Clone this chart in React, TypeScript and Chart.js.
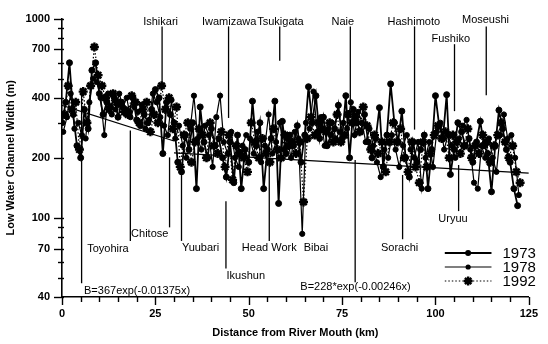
import React, { useEffect, useRef } from "react";
import { Chart, registerables } from "chart.js";

Chart.register(...registerables);

// Survey stations every km from the river mouth; the three surveys are offset slightly.
const distanceKm = Array.from({ length: 123 }, (_, i) => i);
const surveyOffsetKm = [0, 0.33, 0.67];

const width1973 = [
  300, 380, 600, 330, 230, 200, 350, 280, 550, 600,
  420, 330, 380, 360, 400, 320, 380, 350, 340, 400,
  310, 290, 330, 300, 350, 440, 400, 210, 380, 330,
  300, 190, 170, 260, 220, 300, 140, 360, 240, 200,
  280, 230, 250, 200, 160, 240, 150, 260, 140, 220,
  190, 385, 230, 300, 140, 220, 250, 385, 118, 305,
  210, 260, 230, 290, 190, 260, 455, 300, 410, 250,
  320, 230, 260, 280, 367, 250, 410, 200, 350, 300,
  270, 330, 240, 200, 250, 357, 180, 260, 470, 300,
  240, 343, 200, 160, 240, 190, 220, 260, 140, 220,
  410, 290, 250, 415, 165, 220, 300, 270, 230, 250,
  190, 240, 305, 230, 210, 135, 230, 347, 280, 220,
  190, 140, 115,
];
const width1978 = [
  270, 320, 420, 280, 300, 260, 250, 380, 500, 480,
  400, 260, 420, 330, 350, 420, 360, 400, 320, 360,
  340, 370, 280, 310, 420, 380, 320, 290, 260, 390,
  250, 290, 230, 200, 280, 410, 250, 220, 290, 260,
  180, 320, 410, 240, 210, 270, 200, 180, 230, 260,
  250, 210, 270, 190, 230, 330, 210, 240, 300, 220,
  250, 200, 270, 250, 83, 300, 280, 430, 270, 320,
  230, 280, 300, 250, 270, 300, 280, 380, 260, 340,
  300, 240, 280, 230, 190, 160, 220, 200, 260, 220,
  180, 230, 260, 220, 200, 240, 140, 200, 240, 180,
  270, 300, 220, 260, 230, 200, 250, 290, 310, 220,
  150, 140, 230, 200, 250, 200, 170, 260, 330, 250,
  260, 200, 130,
];
const width1992 = [
  330, 460, 350, 380, 220, 430, 300, 460, 720, 520,
  460, 400, 350, 420, 380, 370, 340, 330, 410, 380,
  300, 350, 380, 270, 330, 300, 460, 350, 400, 280,
  360, 180, 260, 300, 190, 240, 280, 260, 200, 300,
  230, 210, 270, 180, 260, 155, 230, 210, 200, 170,
  300, 240, 200, 250, 210, 190, 280, 220, 200, 260,
  230, 240, 210, 240, 120, 250, 320, 260, 300, 280,
  270, 300, 240, 330, 240, 260, 330, 300, 320, 270,
  360, 290, 220, 260, 210, 240, 170, 240, 300, 240,
  280, 200, 170, 240, 180, 150, 240, 180, 210, 260,
  290, 250, 270, 200, 260, 240, 210, 230, 280, 200,
  230, 210, 260, 240, 190, 230, 260, 300, 240, 200,
  230, 170, 150,
];

const surveyYears = ["1973", "1978", "1992"];
const surveyWidths = [width1973, width1978, width1992];

const yTickValues = [40, 50, 60, 70, 80, 90, 100, 200, 300, 400, 500, 600, 700, 800, 900, 1000];
const yTickLabels = [40, 70, 100, 200, 400, 700, 1000];
const xTickLabels = [0, 25, 50, 75, 100, 125];
const xMinorStepKm = 5;

// Regression lines B = a * exp(-b x)
const regressions = [
  { a: 367, b: 0.01375, fromKm: 0, toKm: 30, text: "B=367exp(-0.01375x)", textKm: 20.1, textWidth: 42.8 },
  { a: 228, b: 0.00246, fromKm: 30, toKm: 125, text: "B=228*exp(-0.00246x)", textKm: 78.6, textWidth: 44.8 },
];

// Station notes: label position and leader line, all in data units (km, m)
const stationNotes = [
  { name: "Ishikari", labelKm: 26.4, labelWidth: 967, lineKm: 26.8, lineTop: 914, lineBottom: 446 },
  { name: "Iwamizawa", labelKm: 44.75, labelWidth: 967, lineKm: 44.6, lineTop: 914, lineBottom: 317 },
  { name: "Tsukigata", labelKm: 58.5, labelWidth: 967, lineKm: 58.3, lineTop: 914, lineBottom: 614 },
  { name: "Naie", labelKm: 75.2, labelWidth: 967, lineKm: 77.2, lineTop: 914, lineBottom: 376 },
  { name: "Hashimoto", labelKm: 94.2, labelWidth: 967, lineKm: 94.4, lineTop: 914, lineBottom: 277 },
  { name: "Fushiko", labelKm: 104.1, labelWidth: 788, lineKm: 105.1, lineTop: 744, lineBottom: 343 },
  { name: "Moseushi", labelKm: 113.4, labelWidth: 985, lineKm: 113.6, lineTop: 914, lineBottom: 412 },
  { name: "Toyohira", labelKm: 12.3, labelWidth: 69.8, lineKm: 5.25, lineTop: 446, lineBottom: 46.9 },
  { name: "Chitose", labelKm: 23.5, labelWidth: 83, lineKm: 18.3, lineTop: 274, lineBottom: 76.5 },
  { name: "", labelKm: 0, labelWidth: 0, lineKm: 28.8, lineTop: 201, lineBottom: 89.5 },
  { name: "Yuubari", labelKm: 37.1, labelWidth: 70.3, lineKm: 32.0, lineTop: 174, lineBottom: 76.5 },
  { name: "Ikushun", labelKm: 49.2, labelWidth: 50.8, lineKm: 43.9, lineTop: 121, lineBottom: 55.6 },
  { name: "Head Work", labelKm: 55.5, labelWidth: 70.3, lineKm: 55.5, lineTop: 184, lineBottom: 76.5 },
  { name: "Bibai", labelKm: 68.0, labelWidth: 70.8, lineKm: null, lineTop: 0, lineBottom: 0 },
  { name: "", labelKm: 0, labelWidth: 0, lineKm: 78.5, lineTop: 195, lineBottom: 47.5 },
  { name: "Sorachi", labelKm: 90.4, labelWidth: 70.8, lineKm: 91.2, lineTop: 164, lineBottom: 78 },
  { name: "Uryuu", labelKm: 104.7, labelWidth: 99, lineKm: 106.2, lineTop: 184, lineBottom: 108 },
];

const FONT = "'Liberation Sans', Arial, Helvetica, sans-serif";

const seriesStyles = [
  { lineWidth: 1.8, dash: [] as number[], pointStyle: "circle", radius: 3, pointBorderWidth: 1 },
  { lineWidth: 1.2, dash: [] as number[], pointStyle: "circle", radius: 2.6, pointBorderWidth: 1 },
  { lineWidth: 1.2, dash: [1.5, 2] as number[], pointStyle: "star", radius: 4.5, pointBorderWidth: 2.4 },
];

const overlayPlugin = {
  id: "overlay",
  afterDraw(chart: any) {
    const { ctx } = chart;
    const x = chart.scales.x;
    const y = chart.scales.y;
    ctx.save();
    ctx.strokeStyle = "#000";
    ctx.fillStyle = "#000";
    ctx.lineWidth = 1.4;
    // x ticks
    for (let v = 0; v <= 125; v += xMinorStepKm) {
      const px = Math.round(x.getPixelForValue(v)) + 0.5;
      const major = xTickLabels.includes(v);
      ctx.beginPath();
      ctx.moveTo(px, y.bottom);
      ctx.lineTo(px, y.bottom + (major ? 8 : 5));
      ctx.stroke();
    }
    // y ticks
    for (const v of yTickValues) {
      const py = Math.round(y.getPixelForValue(v)) + 0.5;
      const major = yTickLabels.includes(v);
      ctx.beginPath();
      ctx.moveTo(x.left - (major ? 8 : 4), py);
      ctx.lineTo(x.left + 2, py);
      ctx.stroke();
    }
    // station notes
    ctx.lineWidth = 1.3;
    ctx.font = `11px ${FONT}`;
    ctx.textAlign = "center";
    ctx.textBaseline = "middle";
    for (const n of stationNotes) {
      if (n.lineKm !== null) {
        const px = x.getPixelForValue(n.lineKm);
        ctx.beginPath();
        ctx.moveTo(px, y.getPixelForValue(n.lineTop));
        ctx.lineTo(px, y.getPixelForValue(n.lineBottom));
        ctx.stroke();
      }
      if (n.name) {
        ctx.fillText(n.name, x.getPixelForValue(n.labelKm), y.getPixelForValue(n.labelWidth));
      }
    }
    for (const r of regressions) {
      ctx.fillText(r.text, x.getPixelForValue(r.textKm), y.getPixelForValue(r.textWidth));
    }
    // legend
    const legendX0 = x.getPixelForValue(102.5);
    const legendX1 = x.getPixelForValue(115);
    const legendMid = (legendX0 + legendX1) / 2;
    const legendY = [253, 267, 281];
    ctx.font = `15px ${FONT}`;
    ctx.textAlign = "left";
    surveyYears.forEach((yr, i) => {
      const s = seriesStyles[i];
      const py = legendY[i];
      ctx.save();
      ctx.lineWidth = s.lineWidth;
      ctx.setLineDash(s.dash);
      ctx.beginPath();
      ctx.moveTo(legendX0, py);
      ctx.lineTo(legendX1, py);
      ctx.stroke();
      ctx.restore();
      ctx.save();
      ctx.lineWidth = s.pointBorderWidth;
      if (s.pointStyle === "star") {
        const r = s.radius;
        ctx.beginPath();
        for (let k = 0; k < 4; k++) {
          const a = (k * Math.PI) / 4;
          ctx.moveTo(legendMid - r * Math.cos(a), py - r * Math.sin(a));
          ctx.lineTo(legendMid + r * Math.cos(a), py + r * Math.sin(a));
        }
        ctx.stroke();
      } else {
        ctx.beginPath();
        ctx.arc(legendMid, py, s.radius, 0, Math.PI * 2);
        ctx.fill();
      }
      ctx.restore();
      ctx.fillText(yr, legendX1 + 11, py + 1);
    });
    ctx.restore();
  },
};

export default function App() {
  const ref = useRef<HTMLCanvasElement>(null);
  useEffect(() => {
    const datasets: any[] = surveyYears.map((yr, i) => ({
      label: yr,
      data: surveyWidths[i].map((w, k) => ({ x: distanceKm[k] + surveyOffsetKm[i], y: w })),
      showLine: true,
      borderColor: "#000",
      backgroundColor: "#000",
      borderWidth: seriesStyles[i].lineWidth,
      borderDash: seriesStyles[i].dash,
      pointStyle: seriesStyles[i].pointStyle,
      pointRadius: seriesStyles[i].radius,
      pointBorderWidth: seriesStyles[i].pointBorderWidth,
      pointBackgroundColor: "#000",
      pointBorderColor: "#000",
      tension: 0,
    }));
    regressions.forEach((r) => {
      datasets.push({
        label: r.text,
        data: [r.fromKm, r.toKm].map((km) => ({ x: km, y: r.a * Math.exp(-r.b * km) })),
        showLine: true,
        borderColor: "#000",
        borderWidth: 1.2,
        pointRadius: 0,
      });
    });
    const chart = new Chart(ref.current as HTMLCanvasElement, {
      type: "scatter",
      data: { datasets },
      options: {
        responsive: false,
        devicePixelRatio: 1,
        animation: false,
        layout: { padding: { left: 0, right: 10, top: 14, bottom: 0 } },
        plugins: { legend: { display: false }, tooltip: { enabled: false } },
        scales: {
          x: {
            type: "linear",
            min: 0,
            max: 125,
            afterFit: (s: any) => {
              s.height = 47;
            },
            afterBuildTicks: (s: any) => {
              s.ticks = xTickLabels.map((v) => ({ value: v }));
            },
            grid: { display: false, drawTicks: false },
            border: { display: true, color: "#000", width: 1.6 },
            ticks: { color: "#000", font: { family: FONT, size: 11, weight: "bold" }, padding: 10, maxRotation: 0 },
            title: {
              display: true,
              text: "Distance from River Mouth (km)",
              color: "#000",
              font: { family: FONT, size: 11, weight: "bold" },
              padding: { top: 0, bottom: 4 },
            },
          },
          y: {
            type: "logarithmic",
            min: 40,
            max: 1000,
            afterFit: (s: any) => {
              s.width = 62;
            },
            afterBuildTicks: (s: any) => {
              s.ticks = yTickValues.map((v) => ({ value: v }));
            },
            grid: { display: false, drawTicks: false },
            border: { display: true, color: "#000", width: 1.6 },
            ticks: {
              color: "#000",
              font: { family: FONT, size: 11, weight: "bold" },
              padding: 12,
              autoSkip: false,
              callback: (v: any) => (yTickLabels.includes(Number(v)) ? String(v) : ""),
            },
            title: {
              display: true,
              text: "Low Water Channel Width (m)",
              color: "#000",
              font: { family: FONT, size: 11, weight: "bold" },
              padding: { top: 4, bottom: 4 },
            },
          },
        },
      },
      plugins: [overlayPlugin],
    } as any);
    return () => chart.destroy();
  }, []);
  return (
    <div style={{ position: "fixed", left: 0, top: 0, width: 548, height: 344, background: "#fff" }}>
      <canvas ref={ref} width={548} height={344} style={{ display: "block", width: 548, height: 344 }} />
    </div>
  );
}
